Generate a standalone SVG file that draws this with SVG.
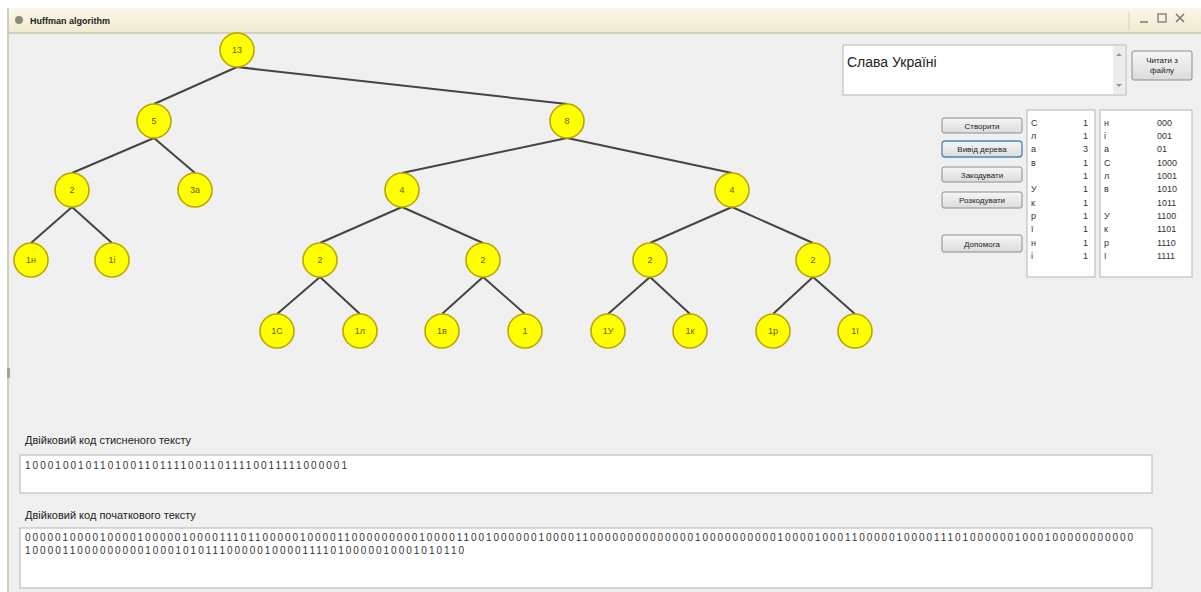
<svg xmlns="http://www.w3.org/2000/svg" width="1201" height="592" viewBox="0 0 1201 592">
<defs>
<linearGradient id="tb" x1="0" y1="0" x2="0" y2="1">
<stop offset="0" stop-color="#fbf8e8"/><stop offset="1" stop-color="#efe9d0"/>
</linearGradient>
<linearGradient id="btn" x1="0" y1="0" x2="0" y2="1">
<stop offset="0" stop-color="#f6f6f6"/><stop offset="1" stop-color="#dcdcdc"/>
</linearGradient>
</defs>
<style>
.node circle{fill:#ffff00;stroke:#b8a800;stroke-width:1.6}
.node text{font-family:"Liberation Sans",Arial,sans-serif;font-size:9px;fill:#6a5a00;text-anchor:middle}
.edges line{stroke:#444;stroke-width:2}
.ui{font-family:"Liberation Sans",Arial,sans-serif;fill:#222}
.btn rect{fill:url(#btn);stroke:#8c8c8c;stroke-width:1}
.btn text{font-family:"Liberation Sans",Arial,sans-serif;font-size:8px;fill:#222;text-anchor:middle}
.box{fill:#fff;stroke:#b4b4b4;stroke-width:1}
.li{font-family:"Liberation Sans",Arial,sans-serif;font-size:9px;fill:#333}
.bin{font-family:"Liberation Sans",Arial,sans-serif;font-size:10px;fill:#333}
</style>
<rect width="1201" height="592" fill="#ffffff"/>
<rect x="8" y="8" width="1193" height="584" fill="#f0f0f0"/>
<rect x="8" y="8" width="1193" height="25" fill="url(#tb)"/>
<line x1="8" y1="33" x2="1201" y2="33" stroke="#b8b4a0" stroke-width="1"/>
<line x1="8" y1="8" x2="8" y2="592" stroke="#c8c2a8" stroke-width="1.5"/>
<rect x="7" y="368" width="3" height="10" fill="#a8a290"/>
<g id="titlebar">
<circle cx="19" cy="20" r="4" fill="#8a8a7a"/>
<text class="ui" x="30" y="24" font-size="9" font-weight="bold" fill="#555">Huffman algorithm</text>
<line x1="1140" y1="22" x2="1148" y2="22" stroke="#777" stroke-width="1.5"/>
<rect x="1158" y="14" width="8" height="8" fill="none" stroke="#777" stroke-width="1.3"/>
<path d="M1176 14 L1184 22 M1184 14 L1176 22" stroke="#777" stroke-width="1.5"/>
<line x1="1129" y1="12" x2="1129" y2="30" stroke="#d8d2bc" stroke-width="1"/>
</g>
<g class="edges" id="connectors">
<line x1="237" y1="67" x2="154" y2="104"/>
<line x1="237" y1="67" x2="567" y2="104"/>
<line x1="154" y1="138" x2="72" y2="173"/>
<line x1="154" y1="138" x2="195" y2="173"/>
<line x1="72" y1="207" x2="31" y2="243"/>
<line x1="72" y1="207" x2="112" y2="243"/>
<line x1="567" y1="138" x2="402" y2="173"/>
<line x1="567" y1="138" x2="732" y2="173"/>
<line x1="402" y1="207" x2="320" y2="243"/>
<line x1="402" y1="207" x2="483" y2="243"/>
<line x1="732" y1="207" x2="650" y2="243"/>
<line x1="732" y1="207" x2="813" y2="243"/>
<line x1="320" y1="277" x2="277" y2="314"/>
<line x1="320" y1="277" x2="360" y2="314"/>
<line x1="483" y1="277" x2="442" y2="314"/>
<line x1="483" y1="277" x2="525" y2="314"/>
<line x1="650" y1="277" x2="608" y2="314"/>
<line x1="650" y1="277" x2="690" y2="314"/>
<line x1="813" y1="277" x2="773" y2="314"/>
<line x1="813" y1="277" x2="855" y2="314"/>
</g>
<g class="node" id="n-root"><circle cx="237" cy="50" r="17"/><text x="237" y="53">13</text></g>
<g class="node" id="n-5"><circle cx="154" cy="121" r="17"/><text x="154" y="124">5</text></g>
<g class="node" id="n-8"><circle cx="567" cy="121" r="17"/><text x="567" y="124">8</text></g>
<g class="node" id="n-2a"><circle cx="72" cy="190" r="17"/><text x="72" y="193">2</text></g>
<g class="node" id="n-3a"><circle cx="195" cy="190" r="17"/><text x="195" y="193">3а</text></g>
<g class="node" id="n-4a"><circle cx="402" cy="190" r="17"/><text x="402" y="193">4</text></g>
<g class="node" id="n-4b"><circle cx="732" cy="190" r="17"/><text x="732" y="193">4</text></g>
<g class="node" id="n-1n"><circle cx="31" cy="260" r="17"/><text x="31" y="263">1н</text></g>
<g class="node" id="n-1i"><circle cx="112" cy="260" r="17"/><text x="112" y="263">1і</text></g>
<g class="node" id="n-2b"><circle cx="320" cy="260" r="17"/><text x="320" y="263">2</text></g>
<g class="node" id="n-2c"><circle cx="483" cy="260" r="17"/><text x="483" y="263">2</text></g>
<g class="node" id="n-2d"><circle cx="650" cy="260" r="17"/><text x="650" y="263">2</text></g>
<g class="node" id="n-2e"><circle cx="813" cy="260" r="17"/><text x="813" y="263">2</text></g>
<g class="node" id="n-1S"><circle cx="277" cy="331" r="17"/><text x="277" y="334">1С</text></g>
<g class="node" id="n-1l"><circle cx="360" cy="331" r="17"/><text x="360" y="334">1л</text></g>
<g class="node" id="n-1v"><circle cx="442" cy="331" r="17"/><text x="442" y="334">1в</text></g>
<g class="node" id="n-1sp"><circle cx="525" cy="331" r="17"/><text x="525" y="334">1 </text></g>
<g class="node" id="n-1U"><circle cx="608" cy="331" r="17"/><text x="608" y="334">1У</text></g>
<g class="node" id="n-1k"><circle cx="690" cy="331" r="17"/><text x="690" y="334">1к</text></g>
<g class="node" id="n-1r"><circle cx="773" cy="331" r="17"/><text x="773" y="334">1р</text></g>
<g class="node" id="n-1yi"><circle cx="855" cy="331" r="17"/><text x="855" y="334">1ї</text></g>
<g id="input">
<rect class="box" x="843" y="45" width="283" height="50"/>
<text class="ui" x="847" y="67" font-size="14">Слава Україні</text>
<rect x="1113" y="46" width="12" height="48" fill="#ececec"/>
<path d="M1116 56 L1119 53 L1122 56 Z M1116 84 L1119 87 L1122 84 Z" fill="#999"/>
</g>
<g class="btn" id="btn-file"><rect x="1132" y="51" width="60" height="29" rx="2"/><text x="1162" y="63">Читати з</text><text x="1162" y="73">файлу</text></g>
<g class="btn" id="btn-1"><rect x="942" y="118" width="80" height="15" rx="2"/><text x="982" y="128.5">Створити</text></g>
<g class="btn" id="btn-2"><rect x="942" y="141" width="80" height="16" rx="3" style="stroke:#4a86b8;stroke-width:1.3"/><text x="982" y="152">Вивід дерева</text></g>
<g class="btn" id="btn-3"><rect x="942" y="167" width="80" height="15" rx="2"/><text x="982" y="177.5">Закодувати</text></g>
<g class="btn" id="btn-4"><rect x="942" y="192" width="80" height="16" rx="2"/><text x="982" y="203">Розкодувати</text></g>
<g class="btn" id="btn-5"><rect x="942" y="235" width="80" height="17" rx="2"/><text x="982" y="246.5">Допомога</text></g>
<g id="list-freq">
<rect class="box" x="1027" y="110" width="68" height="167"/>
<text class="li" x="1031" y="126">С</text><text class="li" x="1083" y="126">1</text>
<text class="li" x="1031" y="139">л</text><text class="li" x="1083" y="139">1</text>
<text class="li" x="1031" y="152">а</text><text class="li" x="1083" y="152">3</text>
<text class="li" x="1031" y="166">в</text><text class="li" x="1083" y="166">1</text>
<text class="li" x="1083" y="179">1</text>
<text class="li" x="1031" y="192">У</text><text class="li" x="1083" y="192">1</text>
<text class="li" x="1031" y="206">к</text><text class="li" x="1083" y="206">1</text>
<text class="li" x="1031" y="219">р</text><text class="li" x="1083" y="219">1</text>
<text class="li" x="1031" y="232">ї</text><text class="li" x="1083" y="232">1</text>
<text class="li" x="1031" y="246">н</text><text class="li" x="1083" y="246">1</text>
<text class="li" x="1031" y="259">і</text><text class="li" x="1083" y="259">1</text>
</g>
<g id="list-codes">
<rect class="box" x="1100" y="110" width="92" height="167"/>
<text class="li" x="1104" y="126">н</text><text class="li" x="1157" y="126">000</text>
<text class="li" x="1104" y="139">і</text><text class="li" x="1157" y="139">001</text>
<text class="li" x="1104" y="152">а</text><text class="li" x="1157" y="152">01</text>
<text class="li" x="1104" y="166">С</text><text class="li" x="1157" y="166">1000</text>
<text class="li" x="1104" y="179">л</text><text class="li" x="1157" y="179">1001</text>
<text class="li" x="1104" y="192">в</text><text class="li" x="1157" y="192">1010</text>
<text class="li" x="1157" y="206">1011</text>
<text class="li" x="1104" y="219">У</text><text class="li" x="1157" y="219">1100</text>
<text class="li" x="1104" y="232">к</text><text class="li" x="1157" y="232">1101</text>
<text class="li" x="1104" y="246">р</text><text class="li" x="1157" y="246">1110</text>
<text class="li" x="1104" y="259">ї</text><text class="li" x="1157" y="259">1111</text>
</g>
<g id="compressed">
<text class="ui" x="25" y="444" font-size="11" fill="#444">Двійковий код стисненого тексту</text>
<rect class="box" x="20" y="455" width="1132" height="38"/>
<text class="bin" x="25" y="469" textLength="322" lengthAdjust="spacing">10001001011010011011110011011110011111000001</text>
</g>
<g id="original">
<text class="ui" x="25" y="519" font-size="11" fill="#444">Двійковий код початкового тексту</text>
<rect class="box" x="20" y="528" width="1132" height="60"/>
<text class="bin" x="25" y="541" textLength="1108" lengthAdjust="spacing">00000100001000010000010000111011000001000011000000000100001100100000010000110000000000000010000000000100001000110000010000111010000001000100000000000</text>
<text class="bin" x="25" y="554" textLength="439" lengthAdjust="spacing">10000110000000001000101011100000100001111010000010001010110</text>
</g>
</svg>
